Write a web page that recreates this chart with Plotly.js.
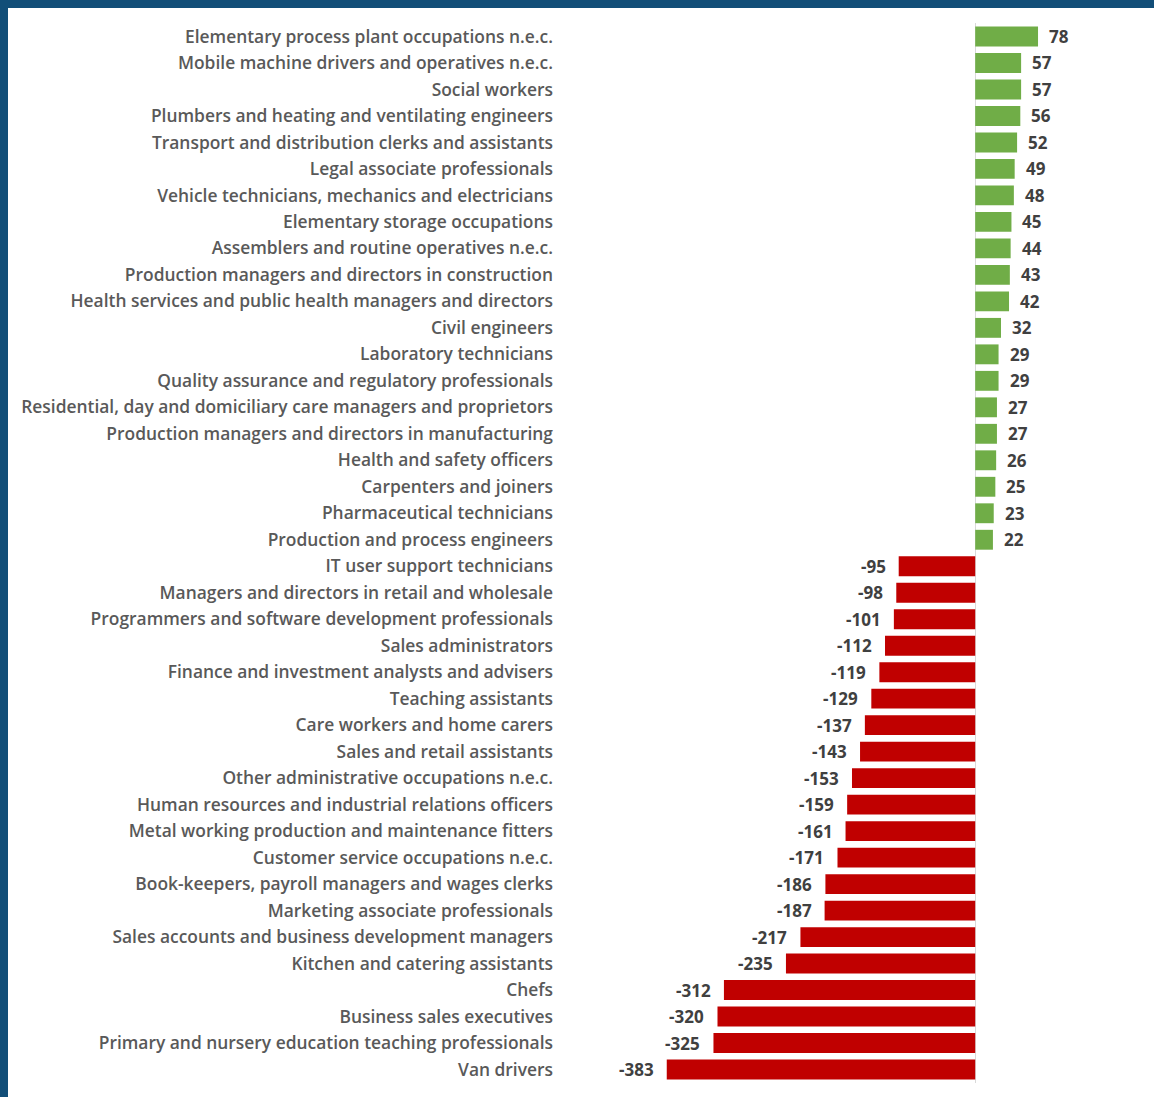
<!DOCTYPE html>
<html><head><meta charset="utf-8">
<script src="https://cdn.plot.ly/plotly-3.0.1.min.js"></script>
<style>
html,body{margin:0;padding:0;background:#124e78;width:1154px;height:1097px;overflow:hidden}
#chart{position:absolute;left:8px;top:8px;width:1146px;height:1089px;background:#fff}
</style></head><body><div id="chart"></div>
<script>
const occupations = [
"Elementary process plant occupations n.e.c.",
"Mobile machine drivers and operatives n.e.c.",
"Social workers",
"Plumbers and heating and ventilating engineers",
"Transport and distribution clerks and assistants",
"Legal associate professionals",
"Vehicle technicians, mechanics and electricians",
"Elementary storage occupations",
"Assemblers and routine operatives n.e.c.",
"Production managers and directors in construction",
"Health services and public health managers and directors",
"Civil engineers",
"Laboratory technicians",
"Quality assurance and regulatory professionals",
"Residential, day and domiciliary care managers and proprietors",
"Production managers and directors in manufacturing",
"Health and safety officers",
"Carpenters and joiners",
"Pharmaceutical technicians",
"Production and process engineers",
"IT user support technicians",
"Managers and directors in retail and wholesale",
"Programmers and software development professionals",
"Sales administrators",
"Finance and investment analysts and advisers",
"Teaching assistants",
"Care workers and home carers",
"Sales and retail assistants",
"Other administrative occupations n.e.c.",
"Human resources and industrial relations officers",
"Metal working production and maintenance fitters",
"Customer service occupations n.e.c.",
"Book-keepers, payroll managers and wages clerks",
"Marketing associate professionals",
"Sales accounts and business development managers",
"Kitchen and catering assistants",
"Chefs",
"Business sales executives",
"Primary and nursery education teaching professionals",
"Van drivers"
];
const changes = [78,57,57,56,52,49,48,45,44,43,42,32,29,29,27,27,26,25,23,22,
-95,-98,-101,-112,-119,-129,-137,-143,-153,-159,-161,-171,-186,-187,-217,-235,-312,-320,-325,-383];

const GREEN = "#70ad47", RED = "#c00000";
const colors = changes.map(v => v >= 0 ? GREEN : RED);

const trace = {
  type: "bar", orientation: "h",
  x: changes, y: occupations,
  marker: {color: colors, line: {width: 0}},
  width: 0.75,
  hoverinfo: "x+y"
};

const annotations = changes.map((v, i) => ({
  x: v, y: occupations[i], xref: "x", yref: "y",
  text: String(v), showarrow: false,
  xanchor: v >= 0 ? "left" : "right",
  xshift: v >= 0 ? 9 : -11,
  font: {family: "Open Sans, sans-serif", size: 17, color: "#404040", weight: 700}
}));

const layout = {
  width: 1146, height: 1089,
  margin: {l: 546, r: 0, t: 15, b: 14},
  paper_bgcolor: "#ffffff", plot_bgcolor: "#ffffff",
  showlegend: false,
  bargap: 0.25,
  xaxis: {range: [-523, 222], showgrid: false, showticklabels: false, ticks: "",
          zeroline: true, zerolinecolor: "#d9d9d9", zerolinewidth: 1, fixedrange: true},
  yaxis: {autorange: "reversed", showgrid: false, ticks: "", zeroline: false,
          tickfont: {family: "Open Sans, sans-serif", size: 17.4, color: "#595959", weight: 600},
          fixedrange: true},
  annotations: annotations
};

Plotly.newPlot("chart", [trace], layout, {displayModeBar: false, staticPlot: true});
</script></body></html>
